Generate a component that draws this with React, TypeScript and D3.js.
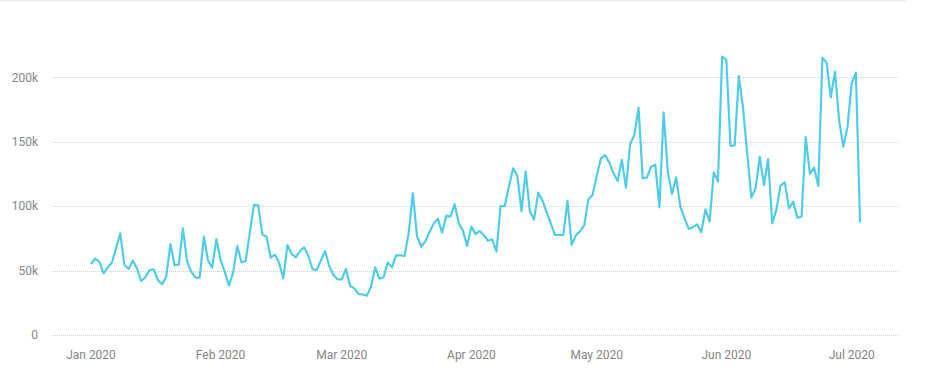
import React from "react";
import * as d3 from "d3";

const startDate = new Date(2020, 0, 1);
const values: number[] = [
  55.1, 59.2, 56.9, 47.9, 52.5, 56.1, 67.3, 78.9, 54.3, 51.2,
  57.7, 51.7, 41.9, 44.8, 50.4, 51.0, 42.7, 39.3, 45.3, 70.6,
  54.3, 54.6, 82.8, 56.9, 49.1, 44.5, 44.5, 76.3, 57.7, 52.3,
  74.5, 58.2, 49.2, 38.3, 48.4, 69.1, 56.4, 57.4, 79.4, 101.1,
  100.6, 78.1, 76.3, 60.0, 62.3, 56.1, 44.0, 69.8, 62.9, 60.3,
  65.2, 68.0, 61.5, 51.0, 50.4, 57.7, 65.2, 53.5, 46.6, 43.2,
  43.2, 51.2, 38.0, 36.2, 31.8, 31.6, 30.5, 37.5, 52.5, 43.7,
  44.8, 56.4, 52.5, 61.8, 61.8, 61.3, 78.9, 110.0, 76.8, 68.5,
  72.8, 80.0, 86.5, 90.3, 79.4, 92.6, 91.8, 101.5, 86.7, 80.8,
  69.2, 84.1, 78.4, 80.7, 77.4, 73.1, 74.3, 64.7, 100.1, 100.1,
  115.4, 129.4, 123.4, 96.2, 126.8, 96.0, 89.5, 110.5, 104.4, 95.3,
  86.7, 77.6, 77.6, 77.6, 104.2, 69.9, 77.3, 80.5, 85.1, 105.3,
  108.7, 123.5, 137.0, 139.6, 133.9, 125.5, 119.5, 136.0, 114.3, 148.3,
  155.2, 176.4, 121.6, 122.1, 130.6, 132.2, 99.1, 172.8, 126.8, 109.4,
  122.4, 99.6, 90.6, 82.3, 83.6, 85.9, 79.7, 97.5, 88.0, 126.3,
  119.0, 216.0, 213.5, 146.7, 147.2, 201.0, 176.0, 141.0, 106.6, 113.8,
  138.4, 116.4, 136.6, 86.7, 97.5, 116.2, 118.5, 98.3, 103.5, 91.0,
  91.8, 153.4, 125.0, 129.9, 115.7, 215.3, 211.4, 184.5, 204.4, 166.4,
  146.2, 161.7, 195.4, 203.6, 87.2,
];
const yTicks = [0, 50000, 100000, 150000, 200000];
const yTickLabels = ["0", "50k", "100k", "150k", "200k"];
const xTickDates = [
  new Date(2020, 0, 1), new Date(2020, 1, 1), new Date(2020, 2, 1),
  new Date(2020, 3, 1), new Date(2020, 4, 1), new Date(2020, 5, 1),
  new Date(2020, 6, 1),
];

const data = values.map((v, i) => ({ date: d3.timeDay.offset(startDate, i), value: v * 1000 }));

export default function App() {
  const W = 934, H = 376;
  const gridLeft = 53, gridRight = 898;
  const x = d3.scaleTime().domain([new Date(2020, 0, 1), new Date(2020, 6, 1)]).range([91, 851.7]);
  const y = d3.scaleLinear().domain([0, 200000]).range([335, 77.3]);
  const line = d3.line<{ date: Date; value: number }>().x(d => x(d.date)).y(d => y(d.value));
  const fmt = d3.timeFormat("%b %Y");
  const font = "Roboto, 'Noto Sans', sans-serif";
  return (
    <svg width={W} height={H} style={{ position: "absolute", left: 0, top: 0, background: "#fff" }}>
      <path d={`M0,0 H906 V0.5 Q906,2 904,2 H0 Z`} fill="#f2f2f2" />
      {yTicks.map((t, i) => (
        <g key={t}>
          <line x1={gridLeft} x2={gridRight} y1={Math.round(y(t)) + 0.5} y2={Math.round(y(t)) + 0.5} stroke="#cfcfcf" strokeWidth={1} strokeDasharray="1 1" />
          <text x={38} y={y(t)} dy="0.35em" textAnchor="end" fontFamily={font} fontSize={12} fill="#858585">{yTickLabels[i]}</text>
        </g>
      ))}
      {xTickDates.map(d => (
        <text key={d.getTime()} x={x(d)} y={359} textAnchor="middle" fontFamily={font} fontSize={12} fill="#858585">{fmt(d)}</text>
      ))}
      <path d={line(data) || ""} fill="none" stroke="#4fcde8" strokeWidth={2.2} strokeLinejoin="round" />
    </svg>
  );
}
